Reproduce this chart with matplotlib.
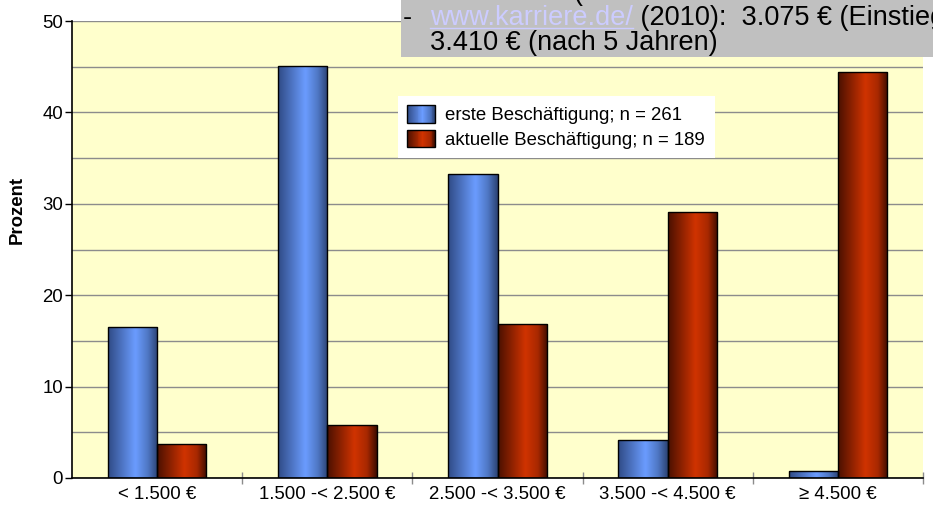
import matplotlib
matplotlib.use("Agg")
import matplotlib.pyplot as plt
import numpy as np
from matplotlib.colors import LinearSegmentedColormap
from matplotlib.patches import Rectangle
from matplotlib.legend_handler import HandlerBase

plt.rcParams['font.family'] = ['Liberation Sans', 'DejaVu Sans']

categories = ["< 1.500 €", "1.500 -< 2.500 €", "2.500 -< 3.500 €", "3.500 -< 4.500 €", "≥ 4.500 €"]
erste = [16.5, 45.1, 33.3, 4.2, 0.8]
aktuelle = [3.7, 5.8, 16.9, 29.1, 44.4]
series_labels = ["erste Beschäftigung; n = 261", "aktuelle Beschäftigung; n = 189"]
y_ticks = [0, 10, 20, 30, 40, 50]

blue_cmap = LinearSegmentedColormap.from_list(
    "blue", [(0, "#2f4a85"), (0.55, "#6b9cff"), (0.8, "#4f77c4"), (1, "#2b4273")])
red_cmap = LinearSegmentedColormap.from_list(
    "red", [(0, "#4a1000"), (0.55, "#d03300"), (0.8, "#a82800"), (1, "#3e0c00")])

W, H = 933, 507
FS = 13.4
fig = plt.figure(figsize=(W / 100, H / 100), dpi=100)
ax = fig.add_axes([72 / W, (H - 478) / H, (923 - 72) / W, (478 - 21) / H])
ax.set_facecolor("#ffffcc")

x = np.arange(len(categories))
bw = 0.29
grad = np.linspace(0, 1, 256).reshape(1, -1)


def gradient_bars(bars, cmap):
    for b in bars:
        b.set_facecolor("none")
        x0, y0 = b.get_x(), b.get_y()
        w, h = b.get_width(), b.get_height()
        im = ax.imshow(grad, cmap=cmap, aspect="auto", extent=(x0, x0 + w, y0, y0 + h),
                       zorder=2, interpolation="bicubic")
        im.set_clip_path(b)


b1 = ax.bar(x - bw / 2, erste, bw, edgecolor="black", linewidth=1.0, zorder=3,
            facecolor="#6b9cff", label=series_labels[0])
b2 = ax.bar(x + bw / 2, aktuelle, bw, edgecolor="black", linewidth=1.0, zorder=3,
            facecolor="#d03300", label=series_labels[1])
gradient_bars(b1, blue_cmap)
gradient_bars(b2, red_cmap)

ax.set_xlim(-0.5, len(categories) - 0.5)
ax.set_ylim(0, 50)
ax.set_yticks(y_ticks)
ax.set_yticks(np.arange(5, 51, 10), minor=True)
ax.yaxis.grid(True, which="both", color="#8c8c8c", linewidth=1.0, zorder=1)
ax.set_axisbelow(True)
ax.tick_params(axis="y", which="major", direction="out", length=5, width=1,
               labelsize=FS, pad=1.5, colors="black")
ax.tick_params(axis="y", which="minor", length=0)
ax.set_xticks(x)
ax.set_xticklabels(categories)
ax.tick_params(axis="x", which="major", length=0, labelsize=FS, pad=6)
ax.set_xticks(np.arange(0.5, len(categories), 1.0), minor=True)
ax.tick_params(axis="x", which="minor", direction="inout", length=8.5, width=1,
               color="#8c8c8c")
for s in ["top", "right"]:
    ax.spines[s].set_visible(False)
ax.spines["left"].set_linewidth(1.2)
ax.spines["bottom"].set_linewidth(1.2)
ax.set_ylabel("Prozent", fontsize=FS, fontweight="bold")
ax.yaxis.set_label_coords(-(72 - 26) / 851, (478 - 210) / 457)


class GradHandler(HandlerBase):
    def __init__(self, cmap):
        super().__init__()
        self.cmap = cmap

    def create_artists(self, legend, orig_handle, xdescent, ydescent, width, height,
                       fontsize, trans):
        arts = []
        n = 30
        for i in range(n):
            r = Rectangle((-xdescent + width * i / n, -ydescent), width / n + 0.3, height,
                          facecolor=self.cmap((i + 0.5) / n), edgecolor="none",
                          transform=trans)
            arts.append(r)
        arts.append(Rectangle((-xdescent, -ydescent), width, height, facecolor="none",
                              edgecolor="black", linewidth=1.0, transform=trans))
        return arts


leg = ax.legend(handles=[b1, b2], labels=series_labels, loc="upper left",
                bbox_to_anchor=((398 - 72) / 851, (478 - 96) / 457), borderaxespad=0,
                fontsize=FS, handlelength=1.5, handleheight=1.07, labelspacing=0.28,
                handletextpad=0.55, borderpad=0.5, fancybox=False, framealpha=1,
                edgecolor="none", facecolor="white",
                handler_map={b1: GradHandler(blue_cmap), b2: GradHandler(red_cmap)})
leg.set_zorder(5)

# grey overlay box at the top
fig.patches.append(Rectangle((401 / W, (H - 57) / H), 1 - 401 / W, 57 / H,
                             transform=fig.transFigure, facecolor="#c0c0c0",
                             edgecolor="none", zorder=10))
fs = 19.5
fig.text(573 / W, 1 - 0 / H, "(", fontsize=fs, va="baseline", ha="left", zorder=11)
y2 = 1 - 25 / H
y3 = 1 - 50 / H
fig.text(403 / W, y2, "-", fontsize=fs, va="baseline", zorder=11)
t_link = fig.text(430 / W, y2, "www.karriere.de/", fontsize=fs, va="baseline",
                  color="#ccccff", zorder=11)
fig.canvas.draw()
r = fig.canvas.get_renderer()
bb = t_link.get_window_extent(r)
fig.lines.append(plt.Line2D([bb.x0 / W, bb.x1 / W], [y2 - 3 / H, y2 - 3 / H],
                            transform=fig.transFigure, color="#ccccff", lw=1, zorder=11))
fig.text(bb.x1 / W, y2, " (2010):  3.075 € (Einstieg", fontsize=fs, va="baseline",
         zorder=11)
fig.text(430 / W, y3, "3.410 € (nach 5 Jahren)", fontsize=fs, va="baseline", zorder=11)

fig.savefig("out.png", dpi=100)
